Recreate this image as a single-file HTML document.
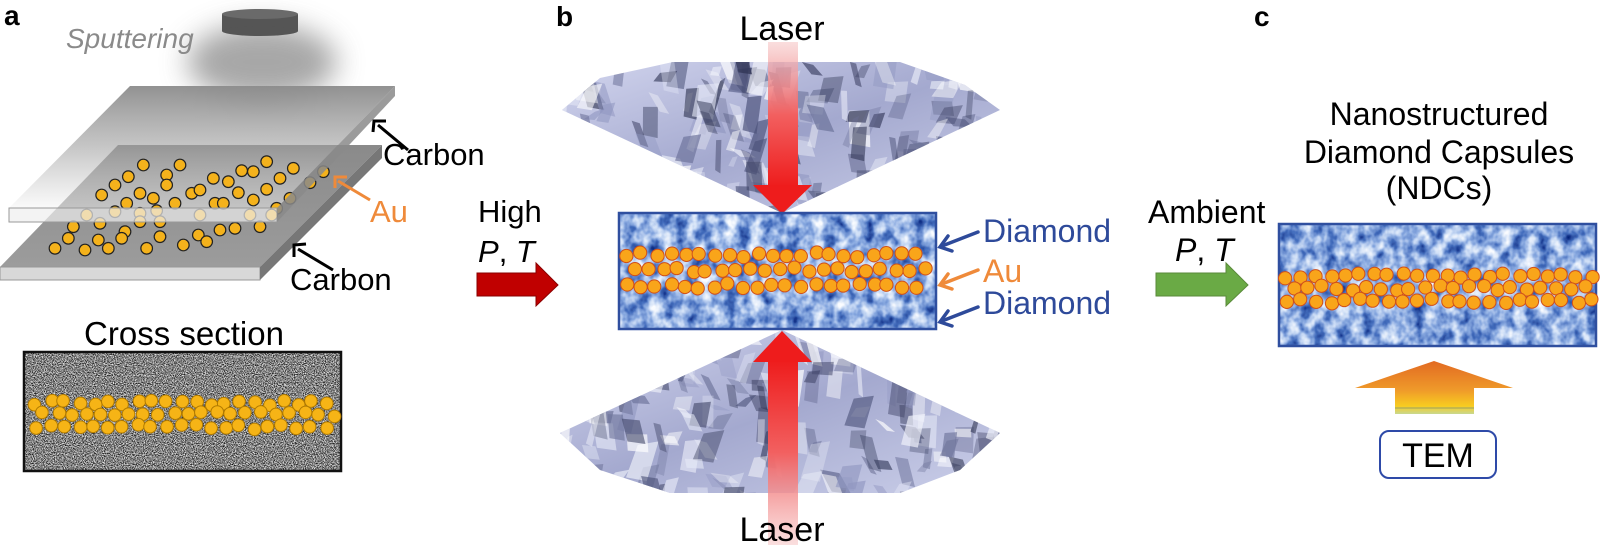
<!DOCTYPE html>
<html><head><meta charset="utf-8"><style>
html,body{margin:0;padding:0;background:#fff;width:1600px;height:545px;overflow:hidden}
svg{display:block}
text{font-family:"Liberation Sans",Arial,sans-serif}
</style></head><body>
<svg id="s" width="1600" height="545" viewBox="0 0 1600 545" xmlns="http://www.w3.org/2000/svg">
<defs>
 <filter id="blue" x="0" y="0" width="100%" height="100%">
  <feTurbulence type="fractalNoise" baseFrequency="0.08 0.07" numOctaves="3" seed="4"/>
  <feColorMatrix type="matrix" values="1 0 0 0 0  1 0 0 0 0  1 0 0 0 0  0 0 0 0 1"/>
  <feComponentTransfer>
   <feFuncR type="table" tableValues="0 0.01 0.06 0.25 0.6 0.95 1"/>
   <feFuncG type="table" tableValues="0.01 0.04 0.16 0.4 0.72 0.97 1"/>
   <feFuncB type="table" tableValues="0.15 0.28 0.52 0.75 0.92 1 1"/>
  </feComponentTransfer>
 </filter>
 <filter id="gray" x="0" y="0" width="100%" height="100%">
  <feTurbulence type="fractalNoise" baseFrequency="0.9" numOctaves="2" seed="7"/>
  <feColorMatrix type="matrix" values="1 0 0 0 0  1 0 0 0 0  1 0 0 0 0  0 0 0 0 1"/>
  <feComponentTransfer>
   <feFuncR type="table" tableValues="0 0 0.05 0.45 1 1"/>
   <feFuncG type="table" tableValues="0 0 0.05 0.45 1 1"/>
   <feFuncB type="table" tableValues="0 0 0.05 0.45 1 1"/>
  </feComponentTransfer>
 </filter>
 <filter id="blur" x="-50%" y="-50%" width="200%" height="200%"><feGaussianBlur stdDeviation="14"/></filter>
 <linearGradient id="plateTop" x1="0" y1="0" x2="0" y2="1">
  <stop offset="0" stop-color="#8c8c8c" stop-opacity="0.95"/><stop offset="0.5" stop-color="#a0a0a0" stop-opacity="0.6"/><stop offset="1" stop-color="#f4f4f4" stop-opacity="0.5"/>
 </linearGradient>
 <linearGradient id="plateBot" x1="0" y1="0" x2="0" y2="1">
  <stop offset="0" stop-color="#8a8a8a"/><stop offset="1" stop-color="#9c9c9c"/>
 </linearGradient>
 <linearGradient id="diaG" x1="0" y1="0" x2="1" y2="1">
  <stop offset="0" stop-color="#d2d5ee"/><stop offset="0.5" stop-color="#a4a9cf"/><stop offset="1" stop-color="#ccd0ea"/>
 </linearGradient>
 <linearGradient id="laserDown" x1="0" y1="0" x2="0" y2="1">
  <stop offset="0" stop-color="#f6c8c8" stop-opacity="0.6"/><stop offset="0.5" stop-color="#f26060"/><stop offset="1" stop-color="#ee1c1c"/>
 </linearGradient>
 <linearGradient id="laserUp" x1="0" y1="1" x2="0" y2="0">
  <stop offset="0" stop-color="#f6c8c8" stop-opacity="0.6"/><stop offset="0.5" stop-color="#f26060"/><stop offset="1" stop-color="#ee1c1c"/>
 </linearGradient>
 <linearGradient id="temG" x1="0" y1="0" x2="0" y2="1">
  <stop offset="0" stop-color="#e26a22"/><stop offset="0.55" stop-color="#ef9a2a"/><stop offset="0.85" stop-color="#f8cc20"/><stop offset="1" stop-color="#c8d890"/>
 </linearGradient>
 <clipPath id="dTop"><polygon points="562,110 600,78 673,62 900,62 965,85 1000,110 782,213"/></clipPath>
 <clipPath id="dBot"><polygon points="782,330 1000,433 960,470 900,493 670,493 600,470 560,433"/></clipPath>
</defs>

<!-- Panel a -->
<text x="4" y="25" font-size="28" font-weight="bold">a</text>
<text x="66" y="48" font-size="28" font-style="italic" fill="#8a8a8a">Sputtering</text>
<ellipse cx="262" cy="62" rx="75" ry="38" fill="#8a8a8a" opacity="0.75" filter="url(#blur)"/>
<rect x="222" y="14" width="76" height="17" fill="#555"/>
<ellipse cx="260" cy="31" rx="38" ry="5" fill="#555"/>
<ellipse cx="260" cy="14" rx="38" ry="5" fill="#6a6a6a"/>

<g id="plates">
 <polygon points="118,145 382,145 260,267 0,267" fill="url(#plateBot)"/>
 <polygon points="0,267 260,267 260,280 0,280" fill="#d8d8d8" stroke="#999" stroke-width="1"/>
 <polygon points="382,145 382,158 260,280 260,267" fill="#777"/>
 <polygon points="130,86 395,86 277,208 9,208" fill="url(#plateTop)"/>
 <g id="auA"></g>
 <polygon points="9,208 277,208 277,222 9,222" fill="#eee" fill-opacity="0.7" stroke="#999" stroke-width="1"/>
 <polygon points="395,86 395,96 277,222 277,208" fill="#8a8a8a" fill-opacity="0.85"/>
</g>
<g stroke="#000" stroke-width="3" fill="none">
 <line x1="408" y1="150" x2="378" y2="125"/><polyline points="373,132 374,121 386,121"/>
 <line x1="333" y1="270" x2="298" y2="249"/><polyline points="294,257 294,245 306,244"/>
</g>
<g stroke="#ef8a3a" stroke-width="3" fill="none">
 <line x1="370" y1="200" x2="338" y2="181"/><polyline points="335,188 335,177 347,177"/>
</g>
<text x="383" y="165" font-size="31">Carbon</text>
<text x="290" y="290" font-size="31">Carbon</text>
<text x="370" y="222" font-size="31" fill="#ef8a3a">Au</text>

<text x="184" y="345" font-size="33" text-anchor="middle">Cross section</text>
<rect x="24" y="352" width="317" height="119" fill="#888" filter="url(#gray)"/>
<rect x="24" y="352" width="317" height="119" fill="none" stroke="#111" stroke-width="2.5"/>
<g id="auX"></g>

<!-- High P,T -->
<text x="478" y="222" font-size="31">High</text>
<text x="478" y="262" font-size="31"><tspan font-style="italic">P</tspan>, <tspan font-style="italic">T</tspan></text>
<polygon points="477,273 536,273 536,263 558,285 536,306 536,296 477,296" fill="#c00000" stroke="#8a0000" stroke-width="1"/>

<!-- Panel b -->
<text x="556" y="26" font-size="28" font-weight="bold">b</text>
<polygon points="562,110 600,78 673,62 900,62 965,85 1000,110 782,213" fill="url(#diaG)"/>
<g id="facTop" clip-path="url(#dTop)"></g>
<polygon points="782,330 1000,433 960,470 900,493 670,493 600,470 560,433" fill="url(#diaG)"/>
<g id="facBot" clip-path="url(#dBot)"></g>

<rect x="768" y="42" width="30" height="145" fill="url(#laserDown)"/>
<polygon points="753,185 812,185 782,214" fill="#ee1c1c"/>
<rect x="768" y="360" width="30" height="185" fill="url(#laserUp)"/>
<polygon points="753,362 812,362 782,331" fill="#ee1c1c"/>
<text x="782" y="40" font-size="34" text-anchor="middle">Laser</text>
<text x="782" y="541" font-size="34" text-anchor="middle">Laser</text>

<rect x="619" y="213" width="317" height="116" fill="#5070c0" filter="url(#blue)"/>
<rect x="619" y="213" width="317" height="116" fill="none" stroke="#2f4f9f" stroke-width="2.5"/>
<g id="auB"></g>

<g stroke="#2e4a9a" stroke-width="3.5" fill="none" stroke-linecap="round">
 <line x1="978" y1="232" x2="942" y2="246"/><polyline points="948,236 940,247 952,251"/>
 <line x1="978" y1="307" x2="942" y2="321"/><polyline points="948,311 940,322 952,326"/>
</g>
<g stroke="#ef8a3a" stroke-width="3.5" fill="none" stroke-linecap="round">
 <line x1="978" y1="270" x2="942" y2="284"/><polyline points="948,274 940,285 952,289"/>
</g>
<text x="983" y="242" font-size="32" fill="#2e4a9a">Diamond</text>
<text x="983" y="282" font-size="32" fill="#ef8a3a">Au</text>
<text x="983" y="314" font-size="32" fill="#2e4a9a">Diamond</text>

<!-- Ambient -->
<text x="1148" y="223" font-size="32">Ambient</text>
<text x="1175" y="261" font-size="32"><tspan font-style="italic">P</tspan>, <tspan font-style="italic">T</tspan></text>
<polygon points="1156,273 1226,273 1226,263 1248,285 1226,306 1226,296 1156,296" fill="#6aaa45" stroke="#5a8a3a" stroke-width="1"/>

<!-- Panel c -->
<text x="1254" y="26" font-size="28" font-weight="bold">c</text>
<text x="1439" y="125" font-size="32" text-anchor="middle">Nanostructured</text>
<text x="1439" y="163" font-size="32" text-anchor="middle">Diamond Capsules</text>
<text x="1439" y="199" font-size="32" text-anchor="middle">(NDCs)</text>
<rect x="1279" y="224" width="317" height="122" fill="#5070c0" filter="url(#blue)"/>
<rect x="1279" y="224" width="317" height="122" fill="none" stroke="#2f4f9f" stroke-width="2.5"/>
<g id="auC"></g>

<polygon points="1434,361 1513,388 1474,388 1474,414 1395,414 1395,388 1355,388" fill="url(#temG)"/>
<line x1="1395" y1="408" x2="1474" y2="408" stroke="#9aa060" stroke-width="1"/>
<rect x="1380" y="431" width="116" height="47" rx="9" fill="#fff" stroke="#2e4aa8" stroke-width="2"/>
<text x="1438" y="467" font-size="34" text-anchor="middle">TEM</text>
</svg>
<script>
(function(){
var NS="http://www.w3.org/2000/svg";
function el(p,t,a){var e=document.createElementNS(NS,t);for(var k in a)e.setAttribute(k,a[k]);p.appendChild(e);return e;}
var seed=12345;function rnd(){seed=(seed*16807)%2147483647;return seed/2147483647;}
var pts=[[430,495],[540,495],[800,485],[880,505],[500,525],[385,530],[725,512],[760,515],[970,515],[840,535],[345,555],[500,555],[640,535],[685,545],[930,548],[305,585],[420,580],[460,595],[575,580],[600,570],[715,578],[800,568],[380,610],[525,610],[645,610],[670,610],[760,600],[870,595],[830,625],[260,645],[345,635],[420,640],[470,632],[600,645],[750,645],[815,645],[220,680],[300,670],[375,695],[420,665],[480,665],[660,690],[705,685],[780,680],[165,745],[205,715],[255,750],[295,720],[325,745],[365,715],[440,745],[480,710],[550,735],[595,705],[620,725]];
var g=document.getElementById('auA');
pts.forEach(function(p){el(g,'circle',{cx:p[0]/3,cy:p[1]/3,r:5.8,fill:'#f4b21c',stroke:'#222','stroke-width':1.2});});
function band(id,x0,x1,ys,r,fill,stroke){
 var g=document.getElementById(id);
 ys.forEach(function(y,ri){
  for(var x=x0+(ri%2?7:0);x<x1;x+=14.5){
   el(g,'circle',{cx:x+(rnd()-0.5)*4,cy:y+(rnd()-0.5)*5,r:r,fill:fill,stroke:stroke,'stroke-width':1});
  }
 });
}
band('auX',36,336,[403,414,427],6.3,'#f6b416','#b07a00');
band('auB',627,930,[255,270,286],6.6,'#f9a51a','#d0501a');
band('auC',1287,1592,[276,288,301],6.6,'#f9a51a','#d0501a');
function facets(id,y0,y1){
 var g=document.getElementById(id);
 var cols=['#2c3150','#4a5078','#6c7299','#e8ebf8','#ffffff','#3b4062','#9096c0','#f0f2fb'];
 for(var i=0;i<200;i++){
  var x=560+rnd()*440,y=y0+rnd()*(y1-y0);
  var w=4+rnd()*18,h=8+rnd()*30,sk=(rnd()-0.5)*24;
  el(g,'polygon',{points:x+','+y+' '+(x+w)+','+(y+sk*0.3)+' '+(x+w+sk)+','+(y+h)+' '+(x+sk)+','+(y+h*0.9),fill:cols[Math.floor(rnd()*cols.length)],'fill-opacity':0.3+rnd()*0.4});
 }
}
facets('facTop',55,215);
facets('facBot',325,495);
})();
</script>
</body></html>
